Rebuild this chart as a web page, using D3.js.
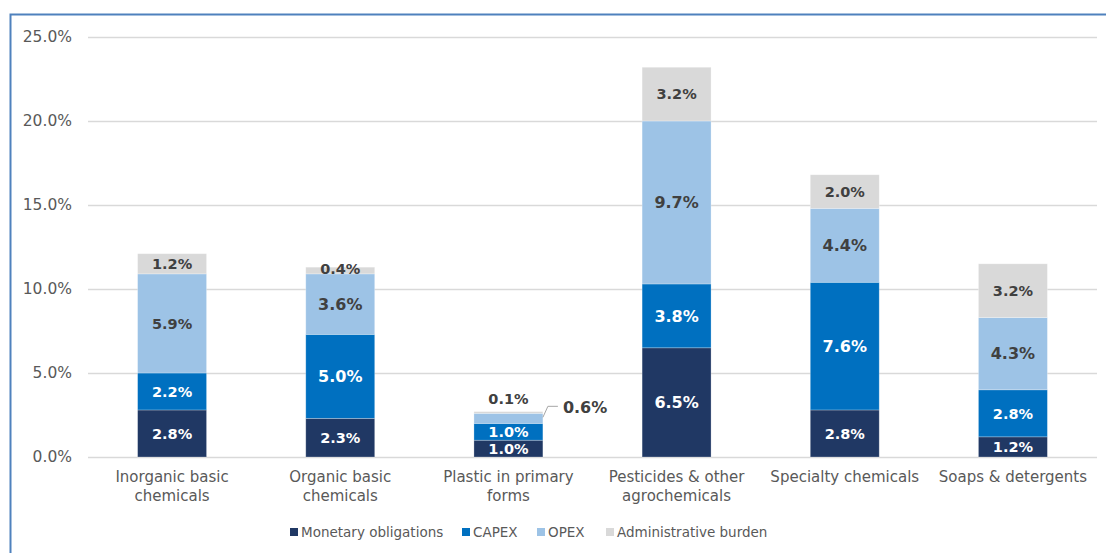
<!DOCTYPE html>
<html>
<head>
<meta charset="utf-8">
<script src="https://cdn.jsdelivr.net/npm/d3@7"></script>
<style>
  body { margin: 0; background: #fff; }
  svg { font-family: "DejaVu Sans", Verdana, sans-serif; }
</style>
</head>
<body>
<svg width="1106" height="553"></svg>
<script>
// --- Data ---
const categories = [
    ["Inorganic basic", "chemicals"],
    ["Organic basic", "chemicals"],
    ["Plastic in primary", "forms"],
    ["Pesticides & other", "agrochemicals"],
    ["Specialty chemicals"],
    ["Soaps & detergents"]
];
const seriesNames = ["Monetary obligations", "CAPEX", "OPEX", "Administrative burden"];
const monetary = [2.8, 2.3, 1.0, 6.5, 2.8, 1.2];
const capex = [2.2, 5.0, 1.0, 3.8, 7.6, 2.8];
const opex = [5.9, 3.6, 0.6, 9.7, 4.4, 4.3];
const admin = [1.2, 0.4, 0.1, 3.2, 2.0, 3.2];
const yTicks = [0, 5, 10, 15, 20, 25];

const colors = ["#203864", "#0070c0", "#9dc3e6", "#d9d9d9"];
const labelColors = ["#ffffff", "#ffffff", "#404040", "#404040"];
// labels drawn a bit larger in the source ("category-series")
const bigLabels = ["1-1", "1-2", "2-2", "3-0", "3-1", "3-2", "4-1", "4-2", "5-2"];

// --- Setup ---
const svg = d3.select("svg");
const margin = { left: 88, right: 9, top: 37, bottom: 96 };
const width = 1106, height = 553;

// frame
svg.append("path")
    .attr("d", `M10.5,553 L10.5,14.5 L1106,14.5`)
    .attr("fill", "none")
    .attr("stroke", "#4f81bd")
    .attr("stroke-width", 2);

const x = d3.scaleBand()
    .domain(d3.range(categories.length))
    .range([margin.left, width - margin.right])
    .paddingInner(0.59)
    .paddingOuter(0.295);

const y = d3.scaleLinear()
    .domain([0, 25])
    .range([height - margin.bottom, margin.top]);

// --- Gridlines + y labels ---
const yAxis = svg.append("g")
    .attr("transform", `translate(${margin.left},0)`)
    .call(d3.axisLeft(y).tickValues(yTicks)
        .tickSize(-(width - margin.left - margin.right))
        .tickPadding(16)
        .tickFormat(d => d.toFixed(1) + "%"));
yAxis.select(".domain").remove();
yAxis.selectAll(".tick line").attr("stroke", "#d9d9d9").attr("stroke-width", 1.5);
yAxis.selectAll(".tick text")
    .attr("fill", "#595959")
    .attr("font-size", "15.5px")
    .attr("font-family", "DejaVu Sans, Verdana, sans-serif");

// --- Stack ---
const rows = categories.map((c, i) => ({ i, s0: monetary[i], s1: capex[i], s2: opex[i], s3: admin[i] }));
const stack = d3.stack().keys(["s0", "s1", "s2", "s3"])(rows);

const layers = svg.append("g").selectAll("g")
    .data(stack)
    .enter().append("g")
    .attr("fill", (d, k) => colors[k]);

layers.selectAll("rect")
    .data(d => d)
    .enter().append("rect")
    .attr("x", d => x(d.data.i))
    .attr("y", d => y(d[1]))
    .attr("width", x.bandwidth())
    .attr("height", d => y(d[0]) - y(d[1]))
    .attr("stroke", "#ffffff")
    .attr("stroke-opacity", 0.35)
    .attr("stroke-width", 0.75);

// --- Segment labels ---
stack.forEach((layer, k) => {
    layer.forEach(d => {
        const i = d.data.i;
        const v = d[1] - d[0];
        let lx = x(i) + x.bandwidth() / 2;
        let ly = (y(d[0]) + y(d[1])) / 2;
        let anchor = "middle";
        let fill = labelColors[k];
        let fs = bigLabels.includes(i + "-" + k) ? 16 : 14.5;
        if (i === 2 && k === 3) {
            ly = y(d[1]) - 13; fill = "#404040";
        } else if (i === 2 && k === 2) {
            // callout label to the right
            const bx = x(i) + x.bandwidth();
            const by = y(d[1]);
            svg.append("polyline")
                .attr("points", `${bx},${by + 4} ${bx + 5},${by - 7} ${bx + 15},${by - 7}`)
                .attr("fill", "none")
                .attr("stroke", "#a6a6a6")
                .attr("stroke-width", 1);
            lx = bx + 20; ly = by - 6; anchor = "start"; fill = "#404040";
        } else if (i === 1 && k === 3) {
            ly = y(d[1]) + 2; fill = "#404040";
        }
        svg.append("text")
            .attr("x", lx)
            .attr("y", ly)
            .attr("dy", "0.36em")
            .attr("text-anchor", anchor)
            .attr("font-size", fs + "px")
            .attr("font-weight", "bold")
            .attr("fill", fill)
            .text(v.toFixed(1) + "%");
    });
});

// --- X labels ---
const xl = svg.append("g");
categories.forEach((lines, i) => {
    const t = xl.append("text")
        .attr("x", x(i) + x.bandwidth() / 2)
        .attr("y", 482)
        .attr("text-anchor", "middle")
        .attr("font-size", "15px")
        .attr("fill", "#595959");
    lines.forEach((ln, j) => {
        t.append("tspan")
            .attr("x", x(i) + x.bandwidth() / 2)
            .attr("dy", j === 0 ? 0 : "1.25em")
            .text(ln);
    });
});

// --- Legend ---
const legendX = [290, 462, 537, 606];
const legend = svg.append("g");
seriesNames.forEach((name, k) => {
    legend.append("rect")
        .attr("x", legendX[k])
        .attr("y", 528)
        .attr("width", 8)
        .attr("height", 8)
        .attr("fill", colors[k]);
    legend.append("text")
        .attr("x", legendX[k] + 11)
        .attr("y", 532)
        .attr("dy", "0.36em")
        .attr("font-size", "13.5px")
        .attr("fill", "#595959")
        .text(name);
});
</script>
</body>
</html>
